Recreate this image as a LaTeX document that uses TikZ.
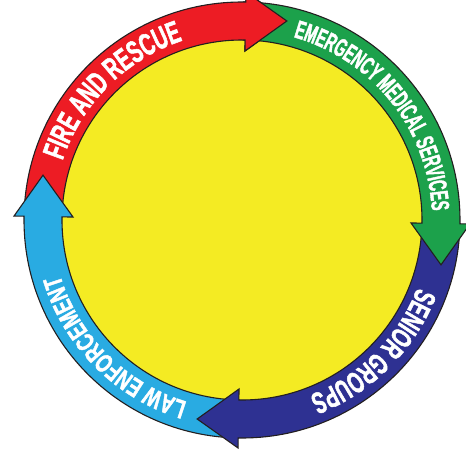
\documentclass[tikz,border=0pt]{standalone}
\usepackage{fontspec}
\usetikzlibrary{decorations.text}
\newfontfamily\bandfont{Liberation Sans}[FakeStretch=0.62,FakeBold=1.6]
\newfontfamily\emsfont{Liberation Sans}[FakeStretch=0.56,FakeBold=1.6]
\newfontfamily\lawfont{Liberation Sans}[FakeStretch=0.70,FakeBold=1.6]
\definecolor{ringred}{RGB}{237,28,36}
\definecolor{ringgreen}{RGB}{28,161,75}
\definecolor{ringnavy}{RGB}{46,49,146}
\definecolor{ringsky}{RGB}{41,171,226}
\definecolor{ringyellow}{RGB}{244,235,35}
\definecolor{outline}{RGB}{35,31,32}
\tikzset{
  band/.style={draw=outline,line width=1.1pt,line join=miter,miter limit=10},
  bandtext/.style={decorate,decoration={text along path,text align=center,text color=white}},
}
% ring arrow: colour, tail angle, angle of the head base (clockwise)
\newcommand{\ringarrow}[3]{%
  \draw[band,fill=#1] (#2:218pt) arc[start angle=#2,end angle=#3,radius=218pt]
    -- (#3:228pt) -- ({#3-11.7}:204pt) -- (#3:169pt) -- (#3:180pt)
    arc[start angle=#3,end angle=#2,radius=180pt] -- cycle;}
\newcommand{\firefmt}{\bandfont\bfseries\fontsize{31}{31}\selectfont}
\newcommand{\emsfmt}{\emsfont\bfseries\fontsize{25.5}{25.5}\selectfont}
\newcommand{\seniorfmt}{\bandfont\bfseries\fontsize{30}{30}\selectfont}
\newcommand{\lawfmt}{\lawfont\bfseries\fontsize{26}{26}\selectfont}

\begin{document}
\begin{tikzpicture}
  \useasboundingbox (-242pt,-241pt) rectangle (224pt,220pt);
  \fill[ringyellow] (0,0) circle[radius=181pt];
  \foreach \col/\tail/\base in {ringred/179/89, ringsky/269/179, ringnavy/-1/-91, ringgreen/89/-1}
    \ringarrow{\col}{\tail}{\base};
  % red head on top of the green tail
  \begin{scope}
    \clip (0,0) -- (89.8:300pt) -- (60:300pt) -- cycle;
    \ringarrow{ringred}{179}{89}
  \end{scope}
  \path[bandtext,decoration={text={|\firefmt|FIRE AND RESCUE}}]
    (170:189pt) arc[start angle=170,end angle=100,radius=189pt];
  \path[bandtext,decoration={text={|\emsfmt|EMERGENCY MEDICAL SERVICES}}]
    (85:190pt) arc[start angle=85,end angle=-8,radius=190pt];
  \path[bandtext,decoration={text={|\seniorfmt|SENIOR GROUPS}}]
    (-10:188pt) arc[start angle=-10,end angle=-80,radius=188pt];
  \path[bandtext,decoration={text={|\lawfmt|LAW ENFORCEMENT}}]
    (260:190pt) arc[start angle=260,end angle=190,radius=190pt];
\end{tikzpicture}
\end{document}
